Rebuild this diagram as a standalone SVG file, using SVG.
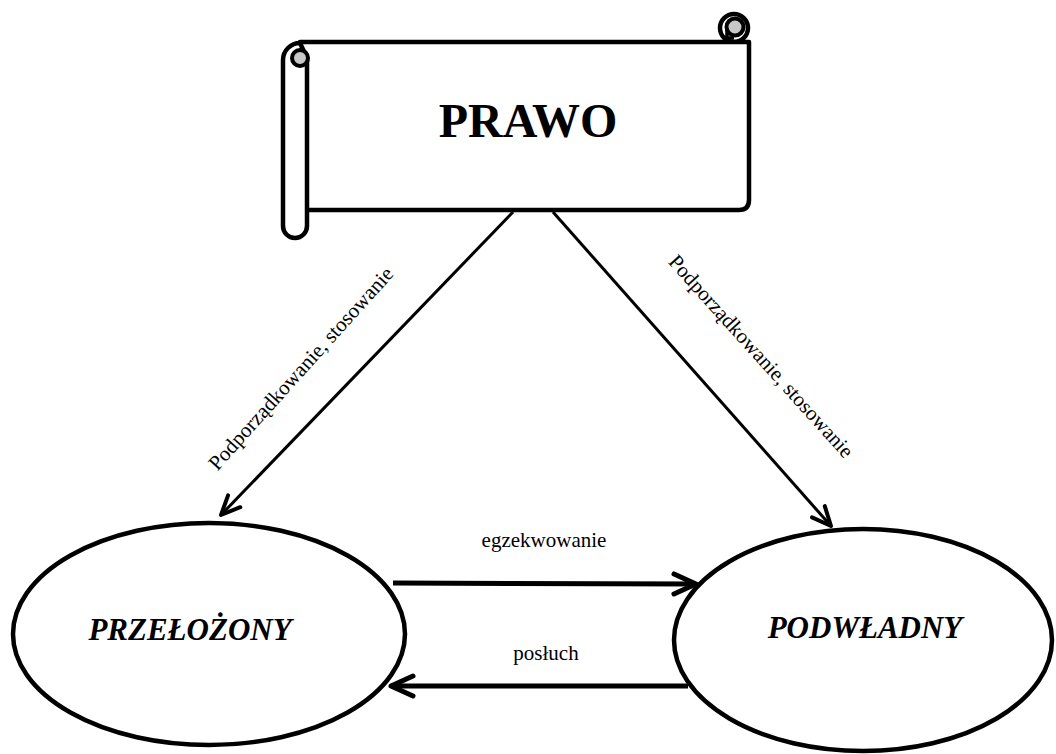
<svg xmlns="http://www.w3.org/2000/svg" width="1056" height="754" viewBox="0 0 1056 754">
  <style>
    .outline { fill: #fff; stroke: #000; stroke-width: 4.5; stroke-linejoin: round; }
    .curl { fill: #c8c8c8; stroke: #000; stroke-width: 4; }
    .edge { fill: none; stroke: #000; stroke-linecap: butt; }
    .thin { stroke-width: 3; }
    .thick { stroke-width: 5; }
    .title { font-family: "Liberation Serif", "Times New Roman", serif; font-weight: bold; font-size: 48px; text-anchor: middle; }
    .role { font-family: "Liberation Serif", "Times New Roman", serif; font-weight: bold; font-style: italic; font-size: 31px; text-anchor: middle; }
    .label { font-family: "Liberation Serif", "Times New Roman", serif; font-size: 21px; text-anchor: middle; }
  </style>
  <defs>
    <marker id="headThin" markerUnits="userSpaceOnUse" markerWidth="30" markerHeight="30" viewBox="-25 -15 30 30" refX="0" refY="0" orient="auto" overflow="visible">
      <path d="M-19,-8.5 L0,0 L-19,8.5" fill="none" stroke="#000" stroke-width="4" stroke-linecap="round" stroke-linejoin="round"/>
    </marker>
    <marker id="headThick" markerUnits="userSpaceOnUse" markerWidth="34" markerHeight="34" viewBox="-28 -17 34 34" refX="0" refY="0" orient="auto" overflow="visible">
      <path d="M-22,-10 L0,0 L-22,10" fill="none" stroke="#000" stroke-width="5" stroke-linecap="round" stroke-linejoin="round"/>
    </marker>
  </defs>

  <rect width="1056" height="754" fill="#fff"/>

  <!-- connectors -->
  <g id="connectors">
    <line class="edge thin" x1="513" y1="212" x2="221" y2="515" marker-end="url(#headThin)"/>
    <line class="edge thin" x1="553" y1="212" x2="831" y2="526" marker-end="url(#headThin)"/>
    <line class="edge thick" x1="393" y1="583" x2="696" y2="584" marker-end="url(#headThick)"/>
    <line class="edge thick" x1="688" y1="686" x2="391" y2="686" marker-end="url(#headThick)"/>
    <text class="label" font-size="22" transform="translate(306,373) rotate(-48)">Podporządkowanie, stosowanie</text>
    <text class="label" transform="translate(756,361) rotate(48)">Podporządkowanie, stosowanie</text>
    <text class="label" x="544" y="547">egzekwowanie</text>
    <text class="label" x="546" y="660">posłuch</text>
  </g>

  <!-- scroll banner -->
  <g id="prawo">
    <!-- top-right curl -->
    <circle class="outline" cx="734" cy="28" r="14" stroke-width="5"/>
    <!-- sheet -->
    <path class="outline" d="M300,42 H749 V200 Q749,210 739,210 H300 Z"/>
    <circle class="curl" cx="735" cy="27" r="8.5"/>
    <path d="M727,28 V38 H734" fill="none" stroke="#000" stroke-width="3.5"/>
    <!-- left roll -->
    <path class="outline" d="M300,43 A17,17 0 0 0 283,60 V226 A12,12 0 0 0 307,226 V58 Z"/>
    <circle class="curl" cx="300" cy="58" r="8"/>
    <text class="title" x="528" y="137">PRAWO</text>
  </g>

  <g id="przelozony">
    <ellipse class="outline" cx="209" cy="634" rx="196" ry="111" stroke-width="5"/>
    <text class="role" x="190" y="640">PRZEŁOŻONY</text>
  </g>

  <g id="podwladny">
    <ellipse class="outline" cx="863" cy="640" rx="189" ry="111" stroke-width="5"/>
    <text class="role" x="865" y="638">PODWŁADNY</text>
  </g>
</svg>
